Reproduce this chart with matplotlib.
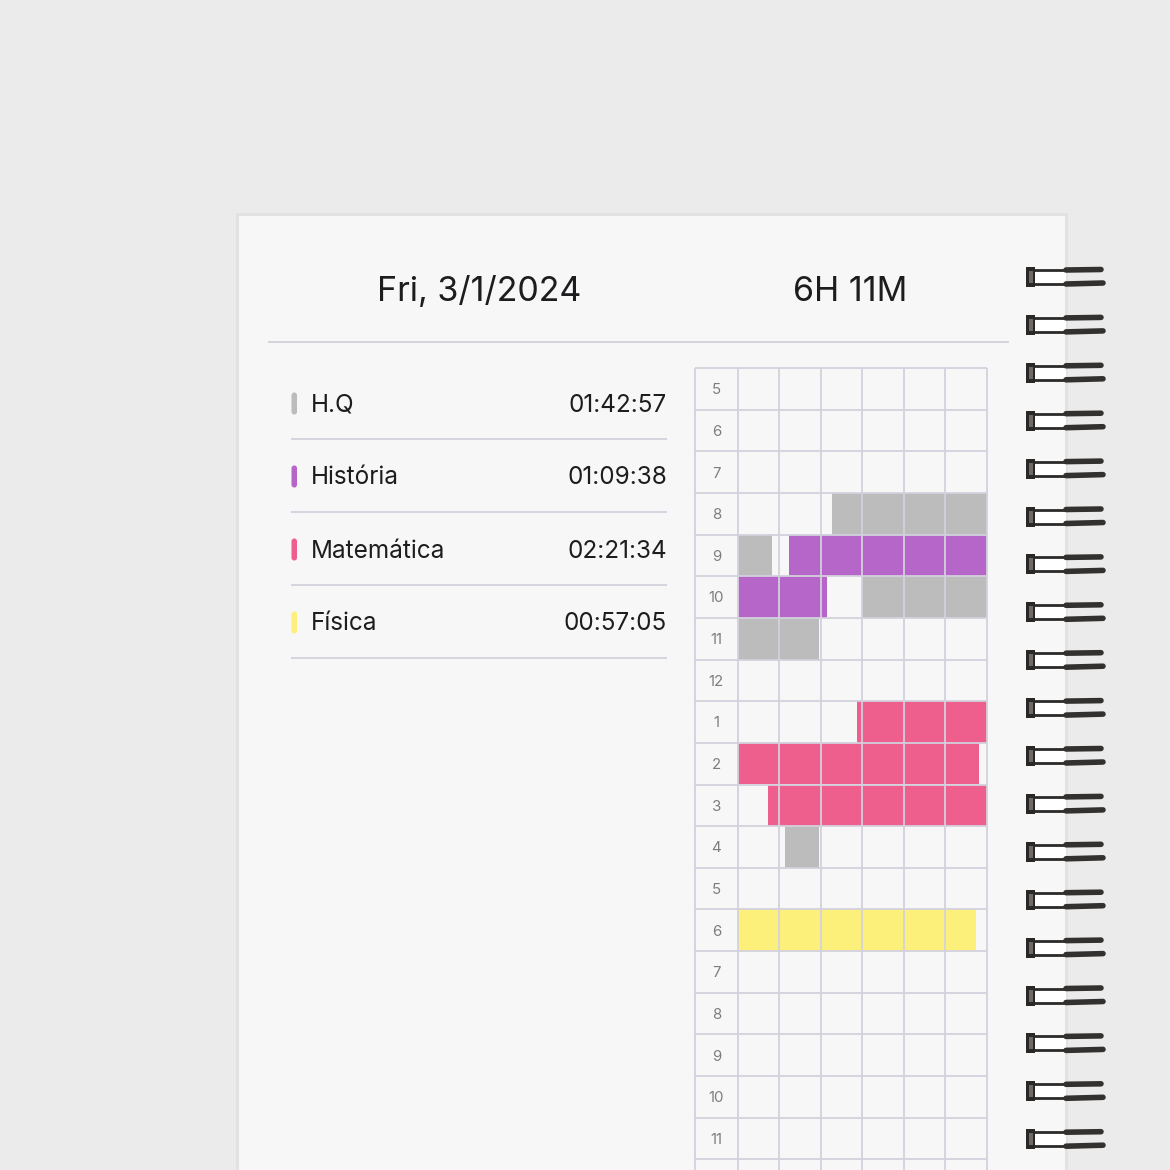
import matplotlib
matplotlib.use("Agg")
import matplotlib.pyplot as plt
from matplotlib.patches import Rectangle, FancyBboxPatch

# ---------------- data ----------------
date_label = "Fri, 3/1/2024"
total_label = "6H 11M"
subjects = ["H.Q", "História", "Matemática", "Física"]
durations = ["01:42:57", "01:09:38", "02:21:34", "00:57:05"]
colors = ["#bcbcbc", "#b566c8", "#ee5f8e", "#fdf07a"]
# study sessions: subject index, start / end in minutes since midnight
session_subject = [0, 1, 0, 0, 2, 2, 3]
session_start = [502.6, 552.4, 629.8, 971.3, 808.6, 907.3, 1080.0]
session_end = [548.3, 621.5, 679.4, 979.4, 898.1, 960.0, 1137.3]
hour_labels = ["5", "6", "7", "8", "9", "10", "11", "12", "1", "2", "3", "4",
               "5", "6", "7", "8", "9", "10", "11", "12"]
first_hour = 5

# ---------------- figure ----------------
W = H = 1170
fig = plt.figure(figsize=(11.7, 11.7), dpi=100)
fig.patch.set_facecolor("#ebebeb")
FONT = ["Inter", "DejaVu Sans"]
TXT = "#1d1d1f"
LINE = "#d3d1dc"

bg = fig.add_axes([0, 0, 1, 1])
bg.set_xlim(0, W)
bg.set_ylim(H, 0)
bg.axis("off")

# paper
bg.add_patch(Rectangle((236, 213), 832, 1000, facecolor="#e2e2e2", edgecolor="none", zorder=1))
bg.add_patch(Rectangle((239, 216), 826, 1000, facecolor="#f7f7f7", edgecolor="none", zorder=2))

# header
bg.text(479, 301, date_label, ha="center", va="baseline", fontsize=24.5, color=TXT,
        family=FONT, zorder=5)
bg.text(850, 301, total_label, ha="center", va="baseline", fontsize=24.5, color=TXT,
        family=FONT, zorder=5)
bg.plot([268, 1009], [342, 342], color="#cfcdda", lw=1.2, zorder=4, solid_capstyle="butt")

# legend list
for i, (name, dur, col) in enumerate(zip(subjects, durations, colors)):
    base = 411.5 + 73 * i
    bg.add_patch(FancyBboxPatch((291.5, base - 19), 5.5, 22,
                                boxstyle="round,pad=0,rounding_size=2.7",
                                facecolor=col, edgecolor="none", zorder=5))
    bg.text(311, base, name, ha="left", va="baseline", fontsize=17.5, color=TXT,
            family=FONT, zorder=5)
    bg.text(667, base, dur, ha="right", va="baseline", fontsize=17.5, color=TXT,
            family=FONT, zorder=5)
    bg.plot([291, 667], [base + 27.5, base + 27.5], color=LINE, lw=1.3, zorder=4,
            solid_capstyle="butt")

# spiral binding
for k in range(20):
    y0 = 267 + 47.9 * k
    bg.add_patch(Rectangle((1035, y0 + 4), 31, 12, facecolor="#ffffff", edgecolor="none", zorder=6))
    bg.plot([1030, 1068], [y0 + 3, y0 + 3], color="#2c2a28", lw=2.0, zorder=7, solid_capstyle="round")
    bg.plot([1030, 1068], [y0 + 17, y0 + 17], color="#2c2a28", lw=2.0, zorder=7, solid_capstyle="round")
    bg.plot([1066, 1101], [y0 + 3, y0 + 2.5], color="#333130", lw=4.0, zorder=7, solid_capstyle="round")
    bg.plot([1066, 1103], [y0 + 17, y0 + 16], color="#333130", lw=4.0, zorder=7, solid_capstyle="round")
    bg.add_patch(Rectangle((1026, y0), 9, 20, facecolor="#2a2826", edgecolor="none", zorder=8))
    bg.add_patch(Rectangle((1029, y0 + 4), 4, 12, facecolor="#6e6a66", edgecolor="none", zorder=8))

# ---------------- timeline grid ----------------
left_px, right_px, top_px = 695, 987, 368
row_px = 41.65
n_rows = (H - top_px) / row_px
ax = fig.add_axes([left_px / W, 0, (right_px - left_px) / W, (H - top_px) / H])
ax.set_facecolor("none")
ax.set_xlim(-10.36, 60)
ax.set_ylim(n_rows, 0)
ax.axis("off")

for s, a, b in zip(session_subject, session_start, session_end):
    t = a
    while t < b - 1e-9:
        hr = int(t // 60)
        seg_end = min(b, (hr + 1) * 60)
        row = hr - first_hour
        ax.add_patch(Rectangle((t - hr * 60, row), seg_end - t, 1,
                               facecolor=colors[s], edgecolor="none", zorder=2))
        t = seg_end

for i, lab in enumerate(hour_labels):
    y = i + 0.5 + 0.13
    if y > n_rows - 0.05:
        continue  # row label falls below the page edge
    ax.text(-5.2, y, lab, ha="center", va="baseline", fontsize=10.8,
            color="#7d7d7d", family=FONT, zorder=4)

for i in range(len(hour_labels) + 1):
    ax.plot([-10.36, 60], [i, i], color=LINE, lw=1.3, zorder=3, clip_on=False,
            solid_capstyle="butt")
for x in [-10.36, 0, 10, 20, 30, 40, 50, 60]:
    ax.plot([x, x], [0, n_rows], color=LINE, lw=1.3, zorder=3, clip_on=False,
            solid_capstyle="butt")

fig.savefig("out.png", dpi=100, facecolor=fig.get_facecolor())
